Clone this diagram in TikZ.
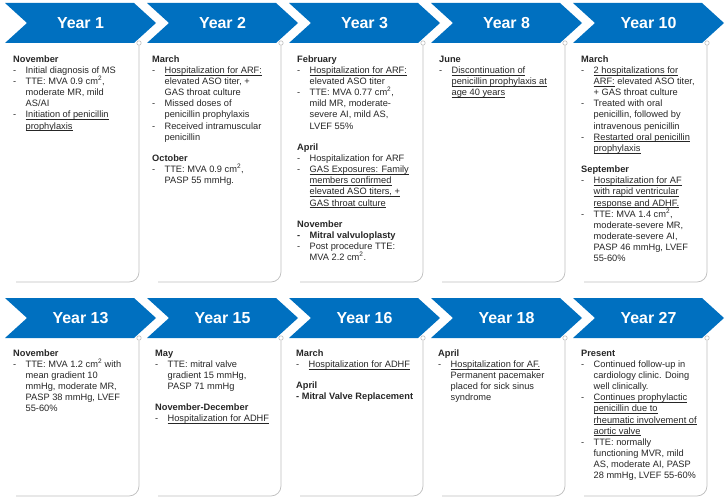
\documentclass[tikz,border=0pt]{standalone}
\usepackage{fontspec}
\setmainfont{Liberation Sans}
\definecolor{chev}{RGB}{0,112,192}
\definecolor{frame}{RGB}{191,191,191}
\definecolor{txt}{RGB}{38,38,38}
\newsavebox\ulbox
\newcommand\ul[1]{\sbox\ulbox{#1}\rlap{\rule[-1.7pt]{\wd\ulbox}{0.5pt}}\usebox\ulbox}
\newcommand\itm[1]{\makebox[12.5pt][l]{-}#1}
\newcommand\cnt[1]{\hspace*{12.5pt}#1}
\newcommand\fst{\rule{0pt}{8pt}}
\newcommand\sq{\textsuperscript{2}}
\tikzset{
  yearlbl/.style={text=white, font=\fontsize{16}{16}\selectfont\bfseries, inner sep=0},
  body/.style={anchor=north west, inner sep=0, align=left, text=txt, font=\fontsize{9.3}{11.2}\selectfont},
  chevfill/.style={fill=chev},
  frameline/.style={draw=frame, line width=0.75bp, rounded corners=10bp},
  dot/.style={circle, draw=frame, fill=white, line width=0.6bp, inner sep=0, minimum size=4.4bp}
}
\begin{document}
\begin{tikzpicture}[x=1bp,y=-1bp]
\useasboundingbox (0,0) rectangle (728,500);
% top row
\foreach \nm/\i/\lab in {a/0/Year 1,b/1/Year 2,c/2/Year 3,d/3/Year 8,e/4/Year 10}{
  \pgfmathsetmacro\L{5+142*\i}
  \pgfmathsetmacro\R{\L+129}
  \fill[chevfill] (\L,3) -- (\R,3) -- (\R+22,23) -- (\R,43) -- (\L,43) -- (\L+22,23) -- cycle;
  \node[yearlbl] (lbl\nm) at ({(\L+\R+22)/2},23) {\lab};
  \coordinate (bot\nm) at (\L+11,282);
  \node[dot] (dot\nm) at (\L+134,43) {};
  \draw[frameline] (dot\nm.south) -- (\L+134,282) -- (bot\nm);
}
% bottom row
\foreach \nm/\i/\lab in {f/0/Year 13,g/1/Year 15,h/2/Year 16,k/3/Year 18,m/4/Year 27}{
  \pgfmathsetmacro\L{5+142*\i}
  \pgfmathsetmacro\R{\L+129}
  \fill[chevfill] (\L,298) -- (\R,298) -- (\R+22,318) -- (\R,338) -- (\L,338) -- (\L+22,318) -- cycle;
  \node[yearlbl] (lbl\nm) at ({(\L+\R+22)/2},318) {\lab};
  \coordinate (bot\nm) at (\L+11,496);
  \node[dot] (dot\nm) at (\L+134,338) {};
  \draw[frameline] (dot\nm.south) -- (\L+134,496) -- (bot\nm);
}
% texts top
\node[body] (ta) at (13,54) {\fst\textbf{November}\\
\itm{Initial diagnosis of MS}\\
\itm{TTE: MVA 0.9 cm\sq,}\\
\cnt{moderate MR, mild}\\
\cnt{AS/AI}\\
\itm{\ul{Initiation of penicillin}}\\
\cnt{\ul{prophylaxis}}};
\node[body] (tb) at (152,54) {\fst\textbf{March}\\
\itm{\ul{Hospitalization for ARF:}}\\
\cnt{elevated ASO titer, +}\\
\cnt{GAS throat culture}\\
\itm{Missed doses of}\\
\cnt{penicillin prophylaxis}\\
\itm{Received intramuscular}\\
\cnt{penicillin}\\[10pt]
\textbf{October}\\
\itm{TTE: MVA 0.9 cm\sq,}\\
\cnt{PASP 55 mmHg.}};
\node[body] (tc) at (297,54) {\fst\textbf{February}\\
\itm{\ul{Hospitalization for ARF:}}\\
\cnt{elevated ASO titer}\\
\itm{TTE: MVA 0.77 cm\sq,}\\
\cnt{mild MR, moderate-}\\
\cnt{severe AI, mild AS,}\\
\cnt{LVEF 55\%}\\[10pt]
\textbf{April}\\
\itm{Hospitalization for ARF}\\
\itm{\ul{GAS Exposures: Family}}\\
\cnt{\ul{members confirmed}}\\
\cnt{\ul{elevated ASO titers, +}}\\
\cnt{\ul{GAS throat culture}}\\[10pt]
\textbf{November}\\
\textbf{\itm{Mitral valvuloplasty}}\\
\itm{Post procedure TTE:}\\
\cnt{MVA 2.2 cm\sq.}};
\node[body] (td) at (439,54) {\fst\textbf{June}\\
\itm{\ul{Discontinuation of}}\\
\cnt{\ul{penicillin prophylaxis at}}\\
\cnt{\ul{age 40 years}}};
\node[body] (te) at (581,54) {\fst\textbf{March}\\
\itm{\ul{2 hospitalizations for}}\\
\cnt{\ul{ARF:} elevated ASO titer,}\\
\cnt{+ GAS throat culture}\\
\itm{Treated with oral}\\
\cnt{penicillin, followed by}\\
\cnt{intravenous penicillin}\\
\itm{\ul{Restarted oral penicillin}}\\
\cnt{\ul{prophylaxis}}\\[10pt]
\textbf{September}\\
\itm{\ul{Hospitalization for AF}}\\
\cnt{\ul{with rapid ventricular}}\\
\cnt{\ul{response and ADHF.}}\\
\itm{TTE: MVA 1.4 cm\sq,}\\
\cnt{moderate-severe MR,}\\
\cnt{moderate-severe AI,}\\
\cnt{PASP 46 mmHg, LVEF}\\
\cnt{55-60\%}};
% texts bottom
\node[body] (tf) at (13,348) {\fst\textbf{November}\\
\itm{TTE: MVA 1.2 cm\sq{} with}\\
\cnt{mean gradient 10}\\
\cnt{mmHg, moderate MR,}\\
\cnt{PASP 38 mmHg, LVEF}\\
\cnt{55-60\%}};
\node[body] (tg) at (155,348) {\fst\textbf{May}\\
\itm{TTE: mitral valve}\\
\cnt{gradient 15 mmHg,}\\
\cnt{PASP 71 mmHg}\\[10pt]
\textbf{November-December}\\
\itm{\ul{Hospitalization for ADHF}}};
\node[body] (th) at (296,348) {\fst\textbf{March}\\
\itm{\ul{Hospitalization for ADHF}}\\[10pt]
\textbf{April}\\
\textbf{- Mitral Valve Replacement}};
\node[body] (tk) at (438,348) {\fst\textbf{April}\\
\itm{\ul{Hospitalization for AF.}}\\
\cnt{Permanent pacemaker}\\
\cnt{placed for sick sinus}\\
\cnt{syndrome}};
\node[body] (tm) at (581,348) {\fst\textbf{Present}\\
\itm{Continued follow-up in}\\
\cnt{cardiology clinic. Doing}\\
\cnt{well clinically.}\\
\itm{\ul{Continues prophylactic}}\\
\cnt{\ul{penicillin due to}}\\
\cnt{\ul{rheumatic involvement of}}\\
\cnt{\ul{aortic valve}}\\
\itm{TTE: normally}\\
\cnt{functioning MVR, mild}\\
\cnt{AS, moderate AI, PASP}\\
\cnt{28 mmHg, LVEF 55-60\%}};
\end{tikzpicture}
\end{document}
